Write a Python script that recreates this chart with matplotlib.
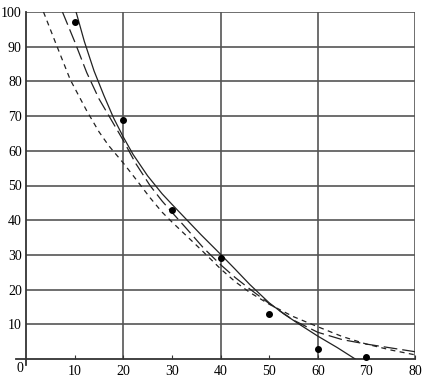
import matplotlib
matplotlib.use("Agg")
import matplotlib.pyplot as plt
from matplotlib.lines import Line2D

# Observed data points
data_x = [10, 20, 30, 40, 50, 60, 70]
data_y = [97, 69, 43, 29, 13, 3, 0.5]

# Solid curve
solid_x = [10.3, 12, 14, 16, 18, 20, 22, 25, 28, 30, 33, 36, 40, 43, 46, 50, 53, 56, 60, 64, 67.7]
solid_y = [100, 91.5, 83, 76, 69.5, 64, 59, 52.8, 47.6, 44.6, 40.2, 35.8, 30.2, 25.9, 21.5, 16.2, 13, 10.2, 6.6, 3.3, 0]

# Long-dash curve
long_x = [7.5, 10, 12.5, 15, 17.5, 20, 22.5, 25.5, 28, 30, 33, 36.5, 40, 43, 46, 50, 55, 60, 65, 70, 75, 80]
long_y = [100, 91.5, 82.5, 75, 69, 63, 56.5, 50, 45.5, 42.3, 37.6, 32, 27.2, 23.5, 20.2, 16, 11.2, 7.7, 5.6, 4.3, 3.2, 2.1]

# Short-dash curve
short_x = [3.6, 6.4, 9.1, 12.5, 15, 17, 20, 22.5, 25.5, 28, 30, 33, 36, 40, 43, 46, 50, 55, 60, 65, 70, 75, 80]
short_y = [100, 90, 80.5, 71.5, 65.5, 61.5, 56.5, 52, 46.5, 42.3, 39.5, 35.5, 31.5, 26, 22.3, 19.2, 15.8, 12.2, 9.3, 6.5, 4.3, 2.6, 1.2]

x_ticks = [10, 20, 30, 40, 50, 60, 70, 80]
y_ticks = [10, 20, 30, 40, 50, 60, 70, 80, 90, 100]

plt.rcParams['font.family'] = ['Liberation Serif', 'DejaVu Serif']

fig = plt.figure(figsize=(4.27, 3.84), dpi=100)
ax = fig.add_axes([26/427, 1 - 359/384, (415 - 26)/427, (359 - 12)/384])
ax.set_xlim(0, 80)
ax.set_ylim(0, 100)

grid_c = '#555555'
for xv in [20, 40, 60, 80]:
    ax.axvline(xv, color=grid_c, lw=1.2, zorder=1)
for yv in y_ticks:
    ax.axhline(yv, color=grid_c, lw=1.2, zorder=1)

for s in ['top', 'right', 'left', 'bottom']:
    ax.spines[s].set_visible(False)

# axis lines extending slightly beyond origin
ax.add_line(Line2D([-0.025, 1.0], [0, 0], transform=ax.transAxes, color='#333333', lw=1.3, clip_on=False))
ax.add_line(Line2D([0, 0], [-0.018, 1.0], transform=ax.transAxes, color='#333333', lw=1.3, clip_on=False))

ax.plot(solid_x, solid_y, color='#222222', lw=0.9, zorder=3)
ax.plot(long_x, long_y, color='#222222', lw=0.9, linestyle=(0, (11, 4)), zorder=3)
ax.plot(short_x, short_y, color='#222222', lw=0.9, linestyle=(0, (4, 3.5)), zorder=3)
ax.plot(data_x, data_y, 'o', color='black', markersize=4, zorder=4, clip_on=False)

ax.set_xticks(x_ticks)
ax.set_xticklabels([str(v) for v in x_ticks])
ax.set_yticks(y_ticks)
ax.set_yticklabels([str(v) for v in y_ticks])
ax.tick_params(axis='x', direction='in', length=3, width=0.8, color='#333333', labelsize=10, pad=4)
ax.tick_params(axis='y', length=0, labelsize=10, pad=3)
ax.text(-0.5, -1.0, '0', ha='right', va='top', fontsize=10)

fig.savefig('out.png', dpi=100)
